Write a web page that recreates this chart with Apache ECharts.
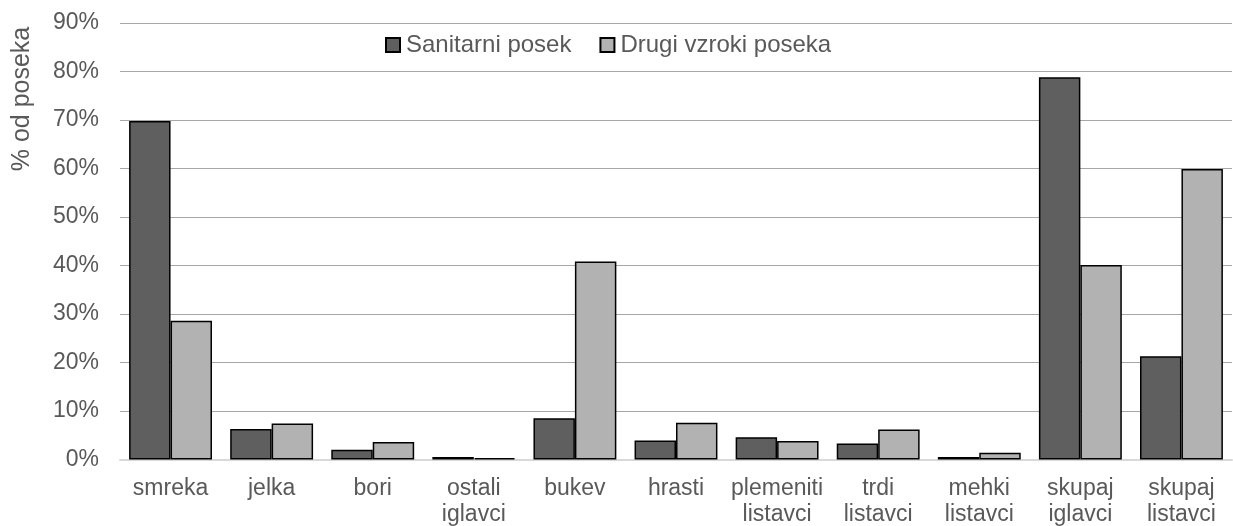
<!DOCTYPE html>
<html>
<head>
<meta charset="utf-8">
<script src="https://cdn.jsdelivr.net/npm/echarts@6/dist/echarts.min.js"></script>
<style>
  html, body { margin: 0; padding: 0; background: #fff; }
  #chart { width: 1233px; height: 526px; }
</style>
</head>
<body>
<div id="chart"></div>
<script>
// vrste drevja
var categories = ['smreka', 'jelka', 'bori', 'ostali\niglavci', 'bukev', 'hrasti',
    'plemeniti\nlistavci', 'trdi\nlistavci', 'mehki\nlistavci', 'skupaj\niglavci', 'skupaj\nlistavci'];
var sanitarni = [69.8, 6.3, 2.0, 0.5, 8.5, 3.9, 4.6, 3.3, 0.5, 78.8, 21.3];
var drugi = [28.6, 7.4, 3.6, 0.3, 40.8, 7.6, 3.8, 6.2, 1.4, 40.1, 59.9];
var yTicks = [0, 10, 20, 30, 40, 50, 60, 70, 80, 90];

var txt = '#595959';
var font = '"Liberation Sans", Arial, sans-serif';

var myChart = echarts.init(document.getElementById('chart'));

var option = {
    animation: false,
    textStyle: { fontFamily: font },
    grid: {
        left: 120,
        right: 1,
        top: 23,
        bottom: 66.5,
        outerBoundsMode: 'none'
    },
    legend: {
        left: 385,
        top: 33,
        padding: 0,
        icon: 'rect',
        itemWidth: 14,
        itemHeight: 14,
        itemGap: 28,
        textStyle: { color: txt, fontSize: 24, fontFamily: font, padding: [0, 0, 0, 1] },
        data: ['Sanitarni posek', 'Drugi vzroki poseka']
    },
    graphic: [
        {
            type: 'text',
            x: 22,
            y: 99,
            rotation: Math.PI / 2,
            style: {
                text: '% od poseka',
                fill: txt,
                font: '25px ' + font,
                align: 'center',
                verticalAlign: 'middle'
            }
        }
    ],
    xAxis: {
        type: 'category',
        data: categories,
        axisLine: { lineStyle: { color: '#d9d9d9', width: 2 } },
        axisTick: { show: false },
        axisLabel: {
            color: txt,
            fontSize: 23,
            lineHeight: 26,
            margin: 16,
            interval: 0
        }
    },
    yAxis: {
        type: 'value',
        min: yTicks[0],
        max: yTicks[yTicks.length - 1],
        interval: 10,
        axisLine: { show: false },
        axisTick: { show: false },
        splitLine: { lineStyle: { color: '#a6a6a6', width: 1 } },
        axisLabel: {
            color: txt,
            fontSize: 23,
            margin: 21,
            formatter: '{value}%'
        }
    },
    series: [
        {
            name: 'Sanitarni posek',
            type: 'bar',
            barGap: '0%',
            barCategoryGap: '18%',
            data: sanitarni,
            itemStyle: { color: '#5f5f5f', borderColor: '#000', borderWidth: 1.5 }
        },
        {
            name: 'Drugi vzroki poseka',
            type: 'bar',
            data: drugi,
            itemStyle: { color: '#b2b2b2', borderColor: '#000', borderWidth: 1.5 }
        }
    ]
};

myChart.setOption(option);
</script>
</body>
</html>
